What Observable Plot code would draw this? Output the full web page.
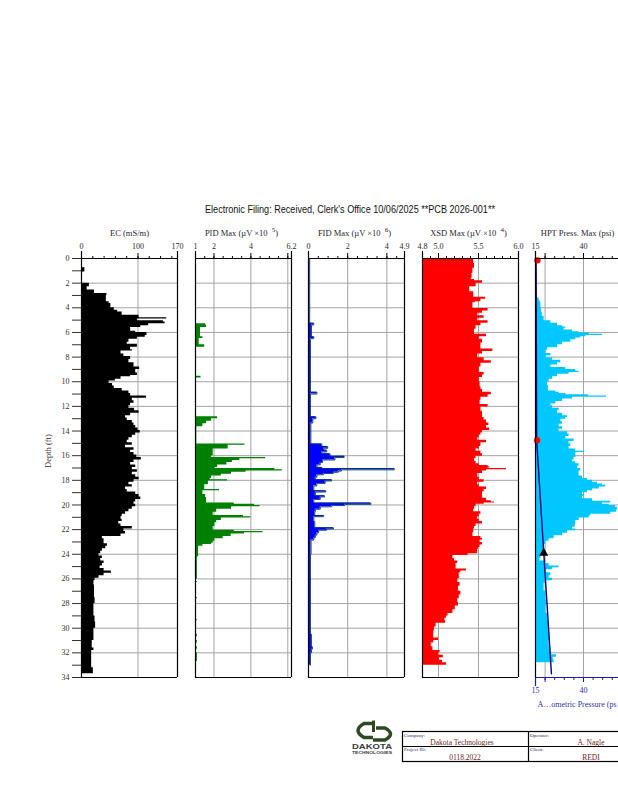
<!DOCTYPE html>
<html><head><meta charset="utf-8">
<script src="https://cdn.jsdelivr.net/npm/d3@7"></script>
<script src="https://cdn.jsdelivr.net/npm/@observablehq/plot@0.6"></script>
<style>
html,body{margin:0;padding:0;background:#fff;}
#root{position:relative;width:618px;height:800px;overflow:hidden;background:#fff;}
#root svg.panel{position:absolute;top:200px;}
</style></head>
<body><div id="root"></div>
<script>
// ---------- DATA (depth ft, value) : value holds from this depth to the next ----------
const ecData = [[0,0],[0.75,6],[1.1,0],[2.0,14],[2.3,10],[2.55,23],[2.85,45],[3.0,44],[3.5,49],[3.65,52],[4.0,58],[4.2,64],[4.35,72],[4.6,102],[4.8,151],[4.9,99],[5.05,145],[5.15,148],[5.3,119],[5.45,105],[5.6,87],[5.9,96],[6.0,116],[6.25,113],[6.4,99],[6.55,84],[6.8,81],[6.95,99],[7.2,87],[7.4,90],[7.5,70],[7.75,75],[7.95,87],[8.2,84],[8.45,93],[8.8,103],[9.0,96],[9.3,99],[9.5,87],[9.6,70],[9.8,60],[9.95,49],[10.15,55],[10.35,58],[10.55,72],[10.75,84],[10.95,87],[11.15,115],[11.35,90],[11.55,93],[11.75,87],[11.95,84],[12.15,94],[12.35,102],[12.55,87],[12.75,78],[12.95,81],[13.15,90],[13.35,93],[13.55,96],[13.75,100],[13.95,104],[14.15,96],[14.35,90],[14.55,84],[14.75,81],[14.95,90],[15.15,78],[15.35,93],[15.55,87],[15.75,93],[15.95,98],[16.15,106],[16.35,93],[16.55,87],[16.75,96],[16.95,90],[17.15,99],[17.35,90],[17.55,96],[17.75,102],[17.95,93],[18.15,84],[18.35,90],[18.55,78],[18.75,81],[18.95,96],[19.15,102],[19.35,105],[19.55,96],[19.75,93],[19.95,96],[20.15,90],[20.35,84],[20.55,78],[20.75,72],[20.95,70],[21.15,72],[21.35,66],[21.55,70],[21.75,90],[21.95,75],[22.15,78],[22.35,70],[22.55,37],[22.75,40],[22.95,40],[23.15,46],[23.35,43],[23.55,37],[23.75,34],[23.95,31],[24.15,37],[24.35,34],[24.55,40],[24.75,37],[24.95,33],[25.15,40],[25.35,53],[25.55,40],[25.75,31],[25.95,24],[26.15,22],[26.5,23],[27.5,24],[28.0,22],[29.0,24],[29.5,25],[30.0,22],[31.0,19],[31.6,22],[31.8,18],[33.2,21]];
const ecEnd = 33.7;

const pidData = [[0,1.02],[0.8,1.0],[3.4,1.03],[5.3,1.55],[5.4,1.6],[5.6,1.27],[6.35,1.4],[6.5,1.2],[7.0,1.5],[7.2,1.05],[9.55,1.3],[9.7,1.04],[12.85,2.2],[13.0,1.87],[13.2,1.6],[13.4,1.4],[13.65,1.07],[15.05,3.68],[15.15,2.77],[15.45,1.96],[16.0,1.87],[16.15,4.8],[16.25,3.4],[16.4,3.0],[16.55,2.7],[16.75,2.2],[16.95,2.05],[17.05,5.3],[17.15,5.7],[17.25,3.74],[17.35,2.95],[17.5,2.4],[17.65,1.87],[17.85,1.8],[17.95,2.74],[18.05,1.7],[18.35,1.5],[18.75,2.3],[18.85,1.4],[19.15,1.55],[19.4,1.6],[19.85,3.1],[19.95,4.2],[20.05,4.5],[20.15,2.95],[20.35,2.15],[20.6,1.96],[20.85,3.6],[20.95,4.0],[21.05,2.4],[21.25,2.15],[21.45,2.05],[21.75,1.96],[22.05,3.1],[22.15,4.65],[22.25,3.65],[22.35,2.93],[22.55,2.5],[22.75,2.05],[22.95,1.96],[23.1,1.87],[23.2,1.4],[23.35,1.17],[24.2,1.1],[26.0,1.05],[26.2,1.1],[26.3,1.05],[27.5,1.1],[27.6,1.05],[29.3,1.1],[29.4,1.05],[30.5,1.1],[30.7,1.05],[31.0,1.1],[31.2,1.05],[31.5,1.1],[31.7,1.05],[32.0,1.1],[32.7,1.05]];
const pidEnd = 33.0;

const fidData = [[0,0.06],[5.25,0.27],[5.4,0.15],[6.35,0.27],[6.5,0.1],[10.85,0.43],[11.0,0.1],[12.85,0.38],[13.0,0.22],[13.35,0.12],[15.05,0.68],[15.25,0.98],[15.4,0.77],[15.55,0.93],[15.7,0.68],[15.85,1.1],[16.05,1.82],[16.15,1.35],[16.35,0.72],[16.55,0.6],[16.75,0.43],[16.95,0.68],[17.05,4.38],[17.15,1.68],[17.25,1.52],[17.35,1.27],[17.45,0.77],[17.55,0.43],[17.75,0.35],[17.95,1.18],[18.05,0.85],[18.25,0.43],[18.45,0.27],[18.85,0.88],[18.95,0.35],[19.25,0.82],[19.35,0.6],[19.55,0.27],[19.85,3.18],[19.95,1.85],[20.05,1.18],[20.15,0.6],[20.35,0.35],[20.55,0.32],[20.85,0.77],[20.95,0.27],[21.35,0.32],[21.85,1.27],[21.95,0.93],[22.05,0.52],[22.25,0.43],[22.45,0.35],[22.65,0.27],[22.85,0.13],[24.0,0.1],[30.5,0.15],[31.5,0.2],[31.7,0.15],[32.0,0.1]];
const fidEnd = 33.0;

const xsdData = [[0,5.44],[0.4,5.45],[0.8,5.43],[1.2,5.42],[1.6,5.41],[1.7,5.45],[1.8,5.55],[2.0,5.47],[2.3,5.39],[2.7,5.44],[3.15,5.59],[3.3,5.53],[3.5,5.46],[3.6,5.43],[4.05,5.62],[4.25,5.55],[4.45,5.49],[4.65,5.57],[4.85,5.49],[5.05,5.62],[5.25,5.53],[5.45,5.47],[5.75,5.45],[6.15,5.6],[6.35,5.51],[6.55,5.55],[6.85,5.53],[7.35,5.68],[7.55,5.55],[7.75,5.49],[8.05,5.57],[8.3,5.66],[8.5,5.53],[8.8,5.51],[9.25,5.57],[9.45,5.55],[9.65,5.51],[10.0,5.52],[10.4,5.53],[10.6,5.55],[10.85,5.66],[11.05,5.62],[11.25,5.53],[11.5,5.52],[11.85,5.62],[12.05,5.53],[12.4,5.55],[12.7,5.55],[12.9,5.57],[13.1,5.6],[13.35,5.63],[13.55,5.6],[13.75,5.64],[13.95,5.55],[14.15,5.53],[14.35,5.51],[14.55,5.49],[14.75,5.6],[14.95,5.53],[15.25,5.51],[15.45,5.47],[15.65,5.53],[15.85,5.55],[16.05,5.47],[16.25,5.45],[16.45,5.47],[16.65,5.51],[16.8,5.62],[16.9,5.64],[17.0,5.62],[17.05,5.85],[17.15,5.6],[17.25,5.55],[17.45,5.49],[17.75,5.51],[17.95,5.57],[18.15,5.49],[18.35,5.51],[18.55,5.6],[18.75,5.57],[18.95,5.55],[19.15,5.55],[19.45,5.6],[19.65,5.66],[19.75,5.7],[19.85,5.57],[19.95,5.47],[20.15,5.45],[20.35,5.44],[20.55,5.53],[20.75,5.51],[20.95,5.49],[21.15,5.51],[21.35,5.55],[21.55,5.47],[21.75,5.45],[21.95,5.44],[22.25,5.43],[22.55,5.53],[22.7,5.55],[22.85,5.52],[23.05,5.55],[23.25,5.52],[23.45,5.5],[23.6,5.49],[23.95,5.37],[24.1,5.18],[24.35,5.2],[24.55,5.24],[24.75,5.22],[25.2,5.35],[25.35,5.28],[25.5,5.26],[26.0,5.24],[26.3,5.27],[26.6,5.25],[27.0,5.28],[27.3,5.26],[27.6,5.24],[27.9,5.25],[28.2,5.21],[28.5,5.18],[28.8,5.12],[29.0,5.1],[29.2,5.08],[29.4,5.09],[29.6,4.97],[29.9,4.95],[30.2,4.94],[30.8,5.0],[31.0,4.94],[31.2,4.91],[31.5,4.93],[31.8,5.02],[32.0,5.0],[32.2,5.06],[32.4,5.01],[32.6,5.05],[32.8,5.1]];
const xsdEnd = 33.0;

const hptData = [[0,15.35],[1.0,15.7],[3.2,16.9],[3.4,17.4],[3.6,17.8],[4.0,18.1],[4.4,18.6],[4.7,19.5],[5.05,23.0],[5.25,26.5],[5.45,29.1],[5.55,30.8],[5.65,29.9],[5.8,34.3],[5.95,37.7],[6.05,43.0],[6.15,49.9],[6.25,41.2],[6.35,38.6],[6.45,36.0],[6.6,33.4],[6.8,29.1],[7.0,26.5],[7.25,21.3],[7.45,20.4],[7.7,23.0],[7.9,20.7],[8.05,23.9],[8.25,28.2],[8.45,26.5],[8.65,23.0],[8.85,30.8],[9.0,36.0],[9.15,37.7],[9.25,32.5],[9.4,26.5],[9.6,23.9],[9.8,22.1],[10.0,21.3],[10.3,21.8],[10.75,25.6],[10.85,27.3],[10.95,30.8],[11.05,42.6],[11.15,52.0],[11.25,34.3],[11.4,29.1],[11.6,25.6],[11.8,23.0],[11.95,23.9],[12.15,27.3],[12.35,26.5],[12.55,29.1],[12.75,31.7],[12.9,30.8],[13.05,28.2],[13.25,29.1],[13.45,27.3],[13.65,29.1],[13.85,27.3],[14.05,31.7],[14.25,32.5],[14.45,30.8],[14.65,35.1],[14.85,32.5],[15.05,33.4],[15.25,32.5],[15.45,36.0],[15.65,40.3],[15.75,36.0],[16.15,35.1],[16.35,34.3],[16.5,36.0],[16.65,37.7],[16.85,36.9],[17.05,38.6],[17.25,37.7],[17.65,39.5],[17.85,42.1],[18.0,44.7],[18.15,47.3],[18.3,49.9],[18.4,51.6],[18.55,48.2],[18.7,44.7],[18.85,42.1],[19.0,39.5],[19.15,40.3],[19.3,39.5],[19.5,44.7],[19.7,54.2],[19.85,49.9],[19.95,53.4],[20.05,56.8],[20.2,57.7],[20.4,57.2],[20.6,54.2],[20.75,43.8],[20.9,43.0],[21.05,37.7],[21.25,36.0],[21.6,35.7],[21.8,34.3],[21.95,36.0],[22.1,31.7],[22.3,29.1],[22.5,24.7],[22.75,22.1],[22.95,20.4],[23.2,19.5],[24.05,17.8],[24.35,17.3],[24.55,20.4],[24.75,22.1],[24.95,27.3],[25.1,23.9],[25.25,20.4],[25.5,23.0],[25.75,22.1],[25.95,23.9],[26.15,20.4],[26.35,19.5],[27.0,20.4],[27.6,20.7],[28.2,20.4],[28.8,21.3],[29.4,21.8],[30.0,22.1],[30.4,22.5],[31.0,22.1],[31.5,23.0],[32.15,25.9],[32.35,24.2],[32.55,24.7]];
const hptEnd = 32.8;

const hydroLine = [[0,15.3],[14.75,15.6],[33.7,23.3]];
const pressureDots = [[0.15,16.0],[14.75,15.8]];
const dissipationMarks = [[23.9,19.3]];

// tick labels
const ecTicks = ["0","100","170"];
const pidTicks = ["1","2","4","6.2"];
const fidTicks = ["0","2","4","4.9"];
const xsdTicks = ["4.8","5.0","5.5","6.0"];
const hptTicks = ["15","40"];
const hptBottomTicks = ["15","40"];
const depthLabels = [0,2,4,6,8,10,12,14,16,18,20,22,24,26,28,30,32,34];

// ---------- LAYOUT ----------
const W = 96;
const H = 520;
const MT = 58, MB = 43;   // depth 0 at page y 258, depth 34 at page y 677
const PXFT = (H - MT - MB) / 34;
const GRID = "#a3a3a3";

function steps(pairs, end) {
  const out = [];
  pairs.forEach(([d, v], i) => {
    const d2 = i + 1 < pairs.length ? pairs[i + 1][0] : end;
    out.push({d, v}, {d: d2, v});
  });
  return out;
}

const panels = [
  {title: "EC (mS/m)", domain: [0,170], ticks: ecTicks, minor: [0,20,40,60,80,100,120,140,160], major: [100], grid: [100], data: ecData, end: ecEnd, fill: "#000", left: 80.5, mL: 50, titleDx: 0},
  {title: "PID Max (µV ×10^5)", domain: [1,6.2], ticks: pidTicks, minor: [1.5,2,2.5,3,3.5,4,4.5,5,5.5,6], major: [2,4,6], grid: [2,4,6], data: pidData, end: pidEnd, fill: "#008000", left: 194.5, mL: 8, titleDx: -2},
  {title: "FID Max (µV ×10^6)", domain: [0,4.9], ticks: fidTicks, minor: [0.5,1,1.5,2,2.5,3,3.5,4,4.5], major: [2,4], grid: [2,4], data: fidData, end: fidEnd, fill: "#0000ff", outline: "#00346e", left: 307.5, mL: 8, titleDx: -2},
  {title: "XSD Max (µV ×10^4)", domain: [4.8,6.0], ticks: xsdTicks, minor: [4.9,5.0,5.1,5.2,5.3,5.4,5.5,5.6,5.7,5.8,5.9], major: [5.0,5.5], grid: [5.0,5.5], data: xsdData, end: xsdEnd, fill: "#ff0000", left: 421.5, mL: 8, titleDx: -2},
  {title: "HPT Press. Max (psi)", domain: [15,65], ticks: hptTicks, minor: [20,25,30,35,40,45,50,55,60], major: [20,40,60], grid: [20,40,60], data: hptData, end: hptEnd, fill: "#00c8ff", left: 534.7, mL: 8, titleDx: -6, hpt: true}
];

const root = document.getElementById("root");

// overlay (title + footer)
root.insertAdjacentHTML("beforeend", `
<svg width="618" height="800" style="position:absolute;left:0;top:0" xmlns="http://www.w3.org/2000/svg">
  <text x="350" y="213" text-anchor="middle" font-family="Liberation Sans, Arial, sans-serif" font-size="11" textLength="290" lengthAdjust="spacingAndGlyphs" fill="#111">Electronic Filing: Received, Clerk's Office 10/06/2025 **PCB 2026-001**</text>
  <g fill="none" stroke="#2f4a22" stroke-linecap="butt">
    <path d="M375,723.5 L364,723.5 Q352,730.5 364,737.5 L373,737.5" stroke-width="3.5"/>
    <line x1="373.5" y1="720.5" x2="373.5" y2="732" stroke-width="3"/>
    <path d="M376,728 L385,728 Q396,734 385,740 L373,740" stroke-width="3.5"/>
  </g>
  <text x="352" y="749" font-family="Liberation Sans, Arial, sans-serif" font-weight="bold" font-size="8" textLength="40" lengthAdjust="spacingAndGlyphs" fill="#3a3a3a">DAKOTA</text>
  <text x="352" y="753.5" font-family="Liberation Sans, Arial, sans-serif" font-weight="bold" font-size="3.8" textLength="40" lengthAdjust="spacingAndGlyphs" fill="#3a3a3a">TECHNOLOGIES</text>
  <g stroke="#000" stroke-width="1.2" fill="none">
    <rect x="402.5" y="731.5" width="260" height="30"/>
    <line x1="402.5" y1="746.5" x2="662" y2="746.5"/>
    <line x1="528.5" y1="731.5" x2="528.5" y2="761.5"/>
  </g>
  <g font-family="Liberation Serif, serif" font-size="5" fill="#2a2a6a">
    <text x="404" y="736.5">Company:</text>
    <text x="530" y="736.5">Operator:</text>
    <text x="404" y="751">Project ID:</text>
    <text x="530" y="751">Client:</text>
  </g>
  <g font-family="Liberation Serif, serif" font-size="7.5" fill="#6b1d1d" text-anchor="middle">
    <text x="462" y="745">Dakota Technologies</text>
    <text x="591" y="745">A. Nagle</text>
    <text x="465" y="759.5">0118.2022</text>
    <text x="591" y="759.5">REDI</text>
  </g>
</svg>`);

const depthGrid = [2,4,6,8,10,12,14,16,18,20,22,24,26,28,30,32];

panels.forEach(p => {
  const base = p.domain[0];
  const mR = 8;
  const pts = steps(p.data, p.end);
  const ext = -7 / PXFT; // 7px above top
  const marks = [
    Plot.ruleY(depthGrid, {stroke: GRID, strokeWidth: 1}),
    Plot.ruleX(p.grid, {y1: 0, y2: 34, stroke: GRID, strokeWidth: 1}),
    Plot.areaX(pts, {y: "d", x1: () => base, x2: "v", fill: p.fill})
  ];
  if (p.outline) marks.push(Plot.lineX(pts, {y: "d", x: "v", stroke: p.outline, strokeWidth: 0.9}));
  if (p.hpt) {
    marks.push(
      Plot.lineX(hydroLine, {x: d => d[1], y: d => d[0], stroke: "#000080", strokeWidth: 1.4}),
      Plot.dot(pressureDots, {x: d => d[1], y: d => d[0], r: 3.2, fill: "#ff0000", stroke: "none"}),
      Plot.dot(dissipationMarks, {x: d => d[1], y: d => d[0], r: 3.4, symbol: "triangle", fill: "#000", stroke: "none"})
    );
  }
  // frame
  marks.push(
    Plot.ruleX([p.domain[0], p.domain[1]], {y1: ext, y2: 34, stroke: "#000", strokeWidth: 1.2}),
    Plot.ruleY([0], {stroke: "#000", strokeWidth: 1.2}),
    Plot.ruleY([34], {stroke: p.hpt ? "#1c1ca0" : "#000", strokeWidth: 1.2}),
    Plot.axisX({anchor: "top", ticks: p.minor, tickSize: 3, tickFormat: () => "", label: null, stroke: "#000"}),
    Plot.axisX({anchor: "top", ticks: p.major, tickSize: 6, tickFormat: () => "", label: null, stroke: "#000"}),
    Plot.text(p.ticks, {x: s => +s, text: s => s, frameAnchor: "top", dy: -15, fill: "#2a2a2a", fontSize: 8}),
    Plot.text([p.title], {frameAnchor: "top", dy: -29, dx: p.titleDx, fill: "#262630", fontSize: 8.5, className: "ptitle"})
  );
  if (p.mL > 20) {
    marks.push(
      Plot.axisY({anchor: "left", ticks: d3.range(0, 35, 1), tickSize: 9, tickPadding: 3, tickFormat: d => depthLabels.includes(d) ? String(d) : "", label: null, fontSize: 8, color: "#3a3028"}),
      Plot.text(["Depth (ft)"], {frameAnchor: "left", dx: -33, rotate: -90, fill: "#3a3028", fontSize: 8.5})
    );
  }
  if (p.hpt) {
    marks.push(
      Plot.ruleX([15], {y1: 34, y2: 34 + 9 / PXFT, stroke: "#1c1ca0", strokeWidth: 1.2}),
      Plot.axisX({anchor: "bottom", ticks: [20,25,30,35,45,50,55], tickSize: 3, tickFormat: () => "", label: null, stroke: "#1c1ca0"}),
      Plot.axisX({anchor: "bottom", ticks: [20,40,60], tickSize: 5, tickFormat: () => "", label: null, stroke: "#1c1ca0"}),
      Plot.text(hptBottomTicks, {x: s => +s, text: s => s, frameAnchor: "bottom", dy: 15, fill: "#3030a0", fontSize: 8}),
      Plot.text(["A…ometric Pressure (ps"], {x: () => 16, frameAnchor: "bottom", dy: 29, textAnchor: "start", fill: "#3030a0", fontSize: 8})
    );
  }
  const svg = Plot.plot({
    width: p.mL + W + mR,
    height: H,
    marginLeft: p.mL, marginRight: mR, marginTop: MT, marginBottom: MB,
    x: {domain: p.domain, axis: null},
    y: {domain: [0, 34], reverse: true, axis: null},
    style: {fontFamily: "Liberation Serif, serif", fontSize: "8px", background: "transparent", color: "#000", overflow: "visible"},
    marks
  });
  // render the "^n" exponent in panel titles as a raised superscript
  svg.querySelectorAll("text").forEach(t => {
    const s = t.textContent;
    const k = s.indexOf("^");
    if (k < 0) return;
    const pre = s.slice(0, k), exp = s.slice(k + 1, k + 2), post = s.slice(k + 2);
    while (t.firstChild) t.removeChild(t.firstChild);
    const mk = (txt, dy, size) => {
      const ts = document.createElementNS("http://www.w3.org/2000/svg", "tspan");
      ts.textContent = txt;
      if (dy) ts.setAttribute("dy", dy);
      if (size) ts.setAttribute("font-size", size);
      t.appendChild(ts);
    };
    mk(pre + "\u2002", 0);
    mk(exp, -4, 7);
    mk(post, 4);
  });
  svg.classList.add("panel");
  svg.style.left = (p.left - p.mL) + "px";
  root.appendChild(svg);
});
</script>
</body></html>
